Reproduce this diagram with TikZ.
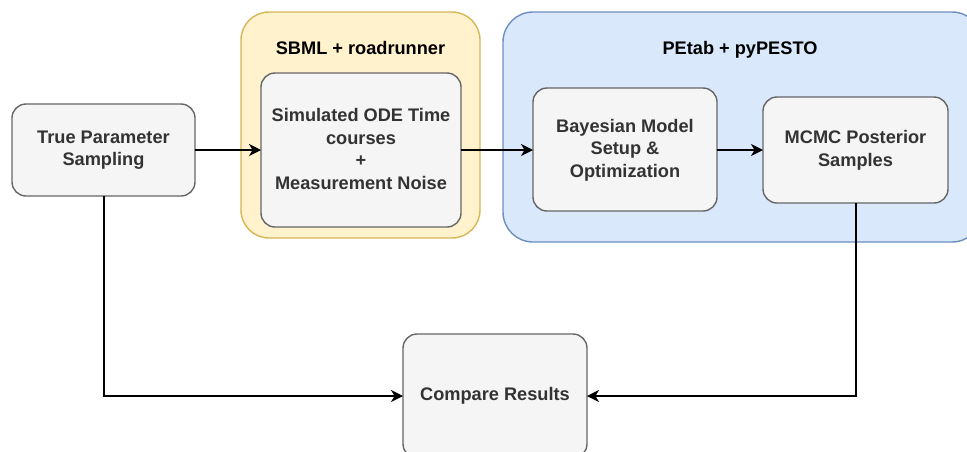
\documentclass[tikz,border=0pt]{standalone}
\usepackage{fontspec}
\setmainfont{Liberation Sans}
\usetikzlibrary{arrows.meta}
\definecolor{boxfill}{HTML}{F5F5F5}
\definecolor{boxdraw}{HTML}{666666}
\definecolor{boxtext}{HTML}{333333}
\definecolor{yelfill}{HTML}{FFF2CC}
\definecolor{yeldraw}{HTML}{D6B656}
\definecolor{blufill}{HTML}{DAE8FC}
\definecolor{bludraw}{HTML}{6C8EBF}
\tikzset{
  procbox/.style={draw=boxdraw, fill=boxfill, line width=1.4pt, rounded corners=14pt},
  boxlabel/.style={text=boxtext, font=\fontsize{18.2}{22.6}\selectfont\bfseries, align=center, inner sep=0pt},
  grouplabel/.style={text=black, font=\fontsize{18.2}{22.6}\selectfont\bfseries, align=center, inner sep=0pt},
  ybox/.style={draw=yeldraw, fill=yelfill, line width=1.4pt, rounded corners=28pt},
  bbox/.style={draw=bludraw, fill=blufill, line width=1.4pt, rounded corners=30pt},
  conn/.style={line width=1.4pt, -{Stealth[length=12pt, width=12pt, inset=3.5pt]}},
}
\begin{document}
\begin{tikzpicture}[x=1pt, y=-1pt]
\useasboundingbox (0,0) rectangle (967,451);
% containers
\draw[ybox] (241,12) rectangle (480,238);
\node[grouplabel] (ytitle) at (360.5,48) {SBML + roadrunner};
\draw[bbox] (503,12) rectangle (982,242);
\node[grouplabel] (btitle) at (740,50) {PEtab + pyPESTO};
% boxes
\draw[procbox] (12,104) rectangle (195,196);
\node[boxlabel] (tps) at (103.5,150) {True Parameter\\Sampling};
\coordinate (tpsL) at (12,150); \coordinate (tpsR) at (195,150); \coordinate (tpsB) at (104,196);

\draw[procbox] (261,73) rectangle (461,227);
\node[boxlabel] (sim) at (361,149) {Simulated ODE Time\\courses\\+\\Measurement Noise};
\coordinate (simL) at (261,150); \coordinate (simR) at (461,150);

\draw[procbox] (533,88) rectangle (717,211);
\node[boxlabel] (bay) at (625,150) {Bayesian Model\\Setup \&\\Optimization};
\coordinate (bayL) at (533,150); \coordinate (bayR) at (717,150);

\draw[procbox] (763,97) rectangle (948,203);
\node[boxlabel] (mcmc) at (855.5,150) {MCMC Posterior\\Samples};
\coordinate (mcmcL) at (763,150); \coordinate (mcmcB) at (856,203);

\draw[procbox] (403,334) rectangle (587,458);
\node[boxlabel] (cmp) at (495,396) {Compare Results};
\coordinate (cmpL) at (403,396); \coordinate (cmpR) at (587,396);

% connectors
\draw[conn] (tpsR) -- (simL);
\draw[conn] (simR) -- (bayL);
\draw[conn] (bayR) -- (mcmcL);
\draw[conn] (tpsB) |- (cmpL);
\draw[conn] (mcmcB) |- (cmpR);
\end{tikzpicture}
\end{document}
